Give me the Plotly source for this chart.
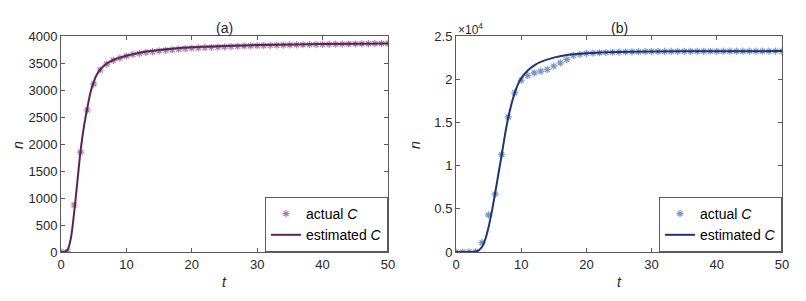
import plotly.graph_objects as go

W, H = 806, 301

# ---- data: panel (a)
t_actual = list(range(0, 51))
actual_a = [0, 5, 870, 1850, 2630, 3110, 3370, 3480, 3550, 3590, 3630, 3655, 3675, 3695, 3710,
            3725, 3735, 3745, 3755, 3765, 3775, 3780, 3785, 3790, 3795, 3800, 3805, 3810, 3815, 3818,
            3820, 3823, 3826, 3829, 3832, 3834, 3836, 3838, 3840, 3842, 3844, 3846, 3848, 3850, 3852,
            3854, 3856, 3858, 3860, 3862, 3864]
t_est_a = [0, 0.5, 1, 1.5, 2, 2.5, 3, 3.5, 4, 4.5, 5, 5.5, 6, 7, 8, 9, 10, 12, 15, 20, 25, 30, 40, 50]
est_a = [0, 5, 40, 250, 720, 1300, 1880, 2320, 2650, 2950, 3150, 3290, 3380, 3490, 3555, 3600, 3635,
         3690, 3740, 3790, 3815, 3832, 3850, 3862]

# ---- data: panel (b)
actual_b = [0, 0, 0, 30, 1080, 4300, 6700, 11280, 15630, 18420, 19880, 20430, 20740, 20930, 21130,
            21510, 21900, 22290, 22750, 22870, 22990, 23020, 23060, 23090, 23120, 23140, 23160, 23170,
            23180, 23190, 23200, 23205, 23210, 23215, 23220, 23225, 23228, 23230, 23232, 23234, 23236,
            23238, 23240, 23242, 23244, 23246, 23248, 23250, 23250, 23250, 23250]
t_est_b = [0, 2, 3, 3.5, 4, 4.5, 5, 5.5, 6, 6.5, 7, 7.5, 8, 8.5, 9, 9.5, 10, 11, 12, 13, 15, 17, 20,
           25, 30, 40, 50]
est_b = [0, 0, 50, 200, 600, 1500, 2900, 4700, 6800, 9000, 11200, 13500, 15500, 17100, 18400, 19400,
         20100, 21000, 21600, 22000, 22500, 22800, 23000, 23150, 23200, 23240, 23250]

x_ticks = [0, 10, 20, 30, 40, 50]
ya_ticks = [0, 500, 1000, 1500, 2000, 2500, 3000, 3500, 4000]
yb_ticks = [0, 5000, 10000, 15000, 20000, 25000]
yb_labels = ["0", "0.5", "1", "1.5", "2", "2.5"]

LINE_A, MARK_A = "#5a2458", "#a783ab"
LINE_B, MARK_B = "#1d3670", "#7895cc"
FONT = "Liberation Sans, Arial, sans-serif"
TXT = "#262626"

fig = go.Figure()
fig.add_trace(go.Scatter(x=t_actual, y=actual_a, mode="markers", name="actual <i>C</i>",
                         marker=dict(symbol="asterisk-open", size=6, color=MARK_A,
                                     line=dict(color=MARK_A, width=1.2)),
                         xaxis="x", yaxis="y", legend="legend"))
fig.add_trace(go.Scatter(x=t_est_a, y=est_a, mode="lines", name="estimated <i>C</i>",
                         line=dict(color=LINE_A, width=2, shape="spline", smoothing=0.8),
                         xaxis="x", yaxis="y", legend="legend"))
fig.add_trace(go.Scatter(x=t_actual, y=actual_b, mode="markers", name="actual <i>C</i>",
                         marker=dict(symbol="asterisk-open", size=6, color=MARK_B,
                                     line=dict(color=MARK_B, width=1.2)),
                         xaxis="x2", yaxis="y2", legend="legend2"))
fig.add_trace(go.Scatter(x=t_est_b, y=est_b, mode="lines", name="estimated <i>C</i>",
                         line=dict(color=LINE_B, width=2, shape="spline", smoothing=0.8),
                         xaxis="x2", yaxis="y2", legend="legend2"))

ydom = [1 - 252 / H, 1 - 36 / H]
ax_common = dict(showline=True, linecolor="#5a5a5a", linewidth=1, mirror="ticks", ticks="inside",
                 ticklen=4, tickcolor="#5a5a5a", showgrid=False, zeroline=False, automargin=False,
                 tickfont=dict(family=FONT, size=13, color=TXT))

leg_common = dict(yanchor="bottom", bgcolor="white", bordercolor="#5a5a5a", borderwidth=1,
                  font=dict(family=FONT, size=14, color="black"), tracegroupgap=0, itemwidth=30)

fig.update_layout(
    width=W, height=H, margin=dict(l=0, r=0, t=0, b=0, autoexpand=False),
    paper_bgcolor="white", plot_bgcolor="white",
    xaxis=dict(domain=[61 / W, 388 / W], range=[0, 50], tickvals=x_ticks, anchor="y", **ax_common),
    yaxis=dict(domain=ydom, range=[0, 4000], tickvals=ya_ticks, anchor="x", **ax_common),
    xaxis2=dict(domain=[456 / W, 782 / W], range=[0, 50], tickvals=x_ticks, anchor="y2", **ax_common),
    yaxis2=dict(domain=ydom, range=[0, 25000], tickvals=yb_ticks, ticktext=yb_labels, anchor="x2", **ax_common),
    legend=dict(x=388 / W, y=1 - 252 / H, xanchor="right", **leg_common),
    legend2=dict(x=782 / W, y=1 - 252 / H, xanchor="right", **leg_common),
    showlegend=True,
)

ann = []
def add_text(x, y, text, size=13, angle=0, xanchor="center"):
    ann.append(dict(x=x / W, y=1 - y / H, xref="paper", yref="paper", text=text, showarrow=False,
                    textangle=angle, xanchor=xanchor, yanchor="middle",
                    font=dict(family=FONT, size=size, color=TXT)))

add_text(224, 28, "(a)", 14)
add_text(619, 28, "(b)", 14)
add_text(224, 282, "<i>t</i>", 14)
add_text(619, 282, "<i>t</i>", 14)
add_text(18, 145, "<i>n</i>", 14, angle=-90)
add_text(415, 145, "<i>n</i>", 14, angle=-90)
add_text(456, 29, "×10<sup>4</sup>", 12, xanchor="left")
fig.update_layout(annotations=ann)

fig.write_html("out.html", config={"displayModeBar": False},
               post_script="document.body.style.margin='0';document.body.style.overflow='hidden';")
